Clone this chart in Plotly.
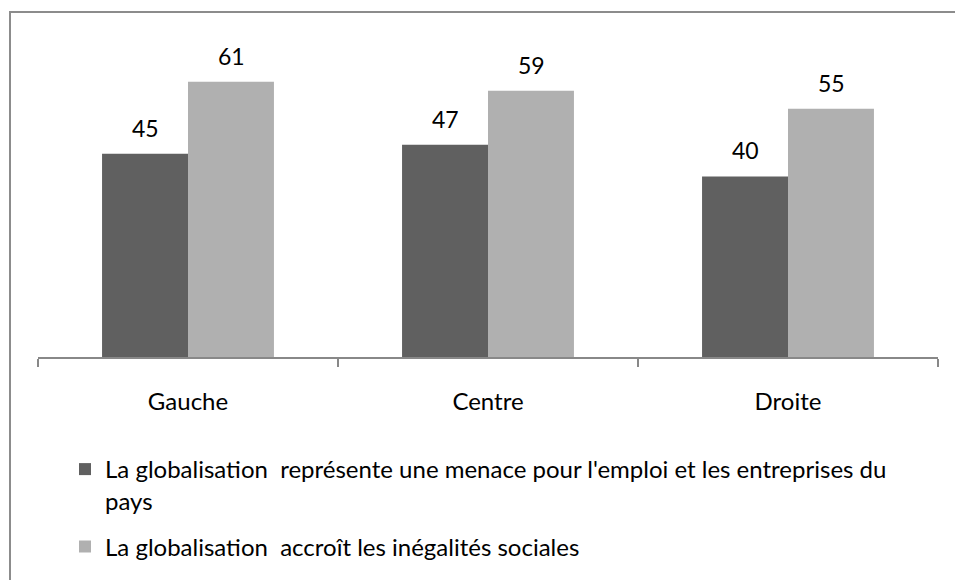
import plotly.graph_objects as go

categories = ["Gauche", "Centre", "Droite"]
series_names = [
    "La globalisation  représente une menace pour l'emploi et les entreprises du<br>pays",
    "La globalisation  accroît les inégalités sociales",
]
menace_values = [45, 47, 40]
inegalites_values = [61, 59, 55]
series_values = [menace_values, inegalites_values]
series_colors = ["#606060", "#B0B0B0"]

FONT = "Lato"

fig = go.Figure()
for i, (name, vals, col) in enumerate(zip(series_names, series_values, series_colors)):
    fig.add_trace(go.Bar(
        x=categories, y=vals, name=name, marker_color=col,
        marker_line_width=0, legendgroup=f"g{i}",
    ))

annotations = []
for i, vals in enumerate(series_values):
    for cat, v in zip(categories, vals):
        annotations.append(dict(
            x=cat, y=v, xref="x", yref="y", text=str(v), showarrow=False,
            xshift=(-43 if i == 0 else 43), yshift=10, yanchor="bottom",
            font=dict(family=FONT, size=23, color="#000000"),
        ))

W, H = 955, 580
ml, mr, mt, mb = 38, 17, 41, 222
pw, ph = W - ml - mr, H - mt - mb

fig.update_layout(
    width=W, height=H,
    margin=dict(l=ml, r=mr, t=mt, b=mb),
    paper_bgcolor="white", plot_bgcolor="white",
    barmode="group", bargap=0.427, bargroupgap=0,
    font=dict(family=FONT, size=24, color="#000000"),
    showlegend=True,
    legend=dict(
        orientation="v", x=(65 - ml) / pw, y=(mt + ph - 447) / ph,
        xanchor="left", yanchor="top", traceorder="grouped", valign="top",
        tracegroupgap=12, font=dict(family=FONT, size=24, color="#000000"),
        bgcolor="rgba(0,0,0,0)",
    ),
    xaxis=dict(
        showline=True, linecolor="#888888", linewidth=2,
        ticks="outside", tickson="boundaries", ticklen=8, tickcolor="#888888",
        tickwidth=2, showgrid=False, ticklabelstandoff=22,
        tickfont=dict(family=FONT, size=24, color="#000000"),
    ),
    yaxis=dict(range=[0, 70], visible=False, showgrid=False),
    annotations=annotations,
    shapes=[dict(
        type="rect", xref="paper", yref="paper",
        x0=(10 - ml) / pw, x1=1.2, y0=-1.0, y1=(mt + ph - 12) / ph,
        line=dict(color="#8C8C8C", width=2), fillcolor="rgba(0,0,0,0)",
        layer="below",
    )],
)

fig.write_html("out.html", config={"displayModeBar": False},
               post_script="document.body.style.margin='0';")
